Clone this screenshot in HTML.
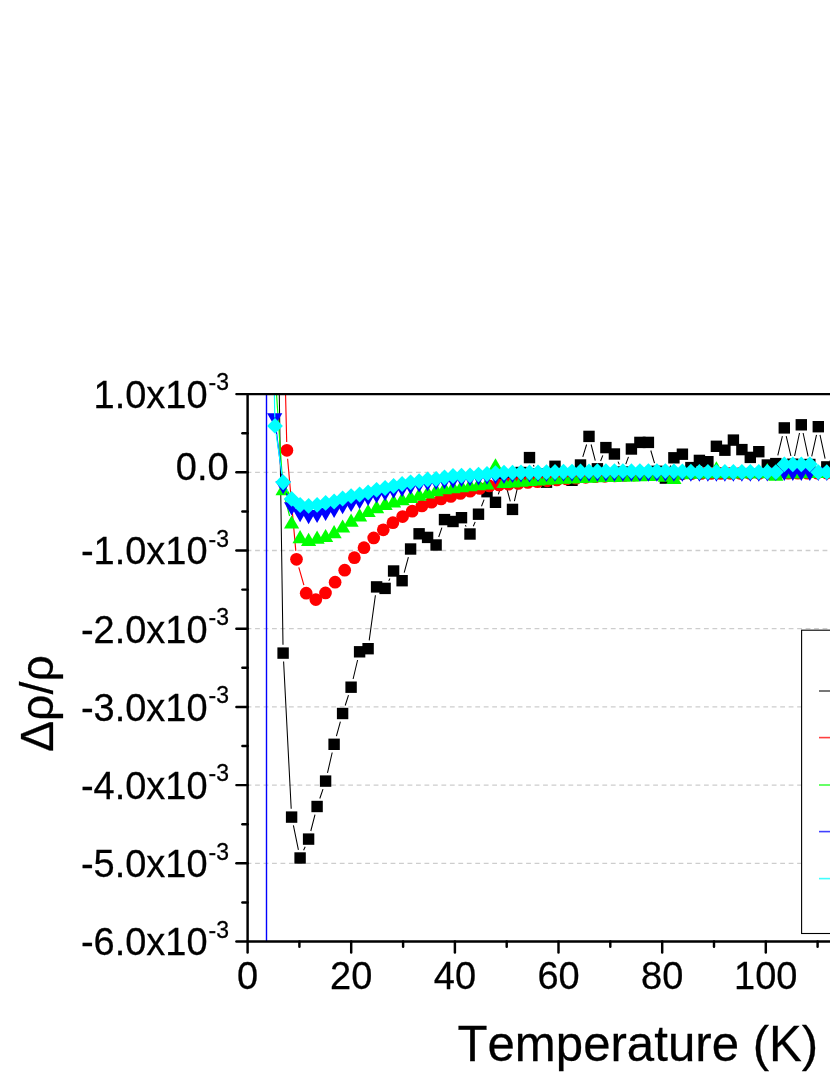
<!DOCTYPE html>
<html><head><meta charset="utf-8"><title>chart</title>
<style>html,body{margin:0;padding:0;background:#fff;}svg{display:block;will-change:transform;}text{font-family:"Liberation Sans",sans-serif;fill:#000;font-kerning:none;stroke:#000;stroke-width:0.25px;}</style></head><body>
<svg width="830" height="1075" viewBox="0 0 830 1075">
<rect width="830" height="1075" fill="#fff"/>
<defs><clipPath id="plot"><rect x="247.6" y="394.1" width="600" height="547.4"/></clipPath></defs>
<g stroke="#cdcdcd" stroke-width="1.3" stroke-dasharray="4.8 3.67">
<line x1="246.6" y1="472.3" x2="832" y2="472.3"/>
<line x1="246.6" y1="550.5" x2="832" y2="550.5"/>
<line x1="246.6" y1="628.7" x2="832" y2="628.7"/>
<line x1="246.6" y1="706.9" x2="832" y2="706.9"/>
<line x1="246.6" y1="785.1" x2="832" y2="785.1"/>
<line x1="246.6" y1="863.3" x2="832" y2="863.3"/>
</g>
<g clip-path="url(#plot)">
<line x1="266.5" y1="380" x2="266.5" y2="950" stroke="#0000ff" stroke-width="1.4"/>
<path d="M279.2 388L283 644.7M283.6 661.5L291.2 808.7M293.4 825.3L298.4 849.8M303.6 850.3L305.2 846.8M310.8 831L315 814.6M319.8 798.5L323 789.1M327.5 772.9L332.2 752.5M336.4 736.2L340.4 721.6M345.2 705.5L348.5 695.2M353.1 679L357.6 660M369.2 640.4L375.4 595.2M388.8 580.9L389.9 578.5M404.2 572.6L408.4 557.1M438.7 537L441.9 527.6M465.4 525.1L466.1 526.6M473.3 526.3L475.2 521.9M481.5 506.3L484.1 499.6M498.3 494.4L501.2 485.9M506.2 486.1L510.3 501.3M514.4 501.2L519.1 480.7M533.4 465.1L534.1 466.5M582.8 456.9L586.6 444.5M591.1 444.5L595.3 460.7M600.6 461L602.8 455.4M618 461.6L619.3 464.4M625.8 464.1L628.5 456.9M650.8 450.5L654.5 463.2M668.6 470.4L670.7 465.5M777.8 455.4L782.4 436.1M786.2 436.1L790.9 456M794.6 456L799.5 433M803.1 433L808.1 456.3M811.7 456.3L816.5 434.9M820 434.9L825.1 458.7" fill="none" stroke="#000" stroke-width="1.05"/>
<g fill="#000"><rect x="277.4" y="647.4" width="11.4" height="11.4"/><rect x="285.9" y="811.4" width="11.4" height="11.4"/><rect x="294.4" y="852.3" width="11.4" height="11.4"/><rect x="302.9" y="833.4" width="11.4" height="11.4"/><rect x="311.4" y="800.8" width="11.4" height="11.4"/><rect x="319.9" y="775.4" width="11.4" height="11.4"/><rect x="328.4" y="738.6" width="11.4" height="11.4"/><rect x="336.9" y="707.8" width="11.4" height="11.4"/><rect x="345.4" y="681.5" width="11.4" height="11.4"/><rect x="353.9" y="646.1" width="11.4" height="11.4"/><rect x="362.4" y="643" width="11.4" height="11.4"/><rect x="370.9" y="581.2" width="11.4" height="11.4"/><rect x="379.4" y="582.7" width="11.4" height="11.4"/><rect x="387.9" y="565.3" width="11.4" height="11.4"/><rect x="396.4" y="575" width="11.4" height="11.4"/><rect x="404.9" y="543.3" width="11.4" height="11.4"/><rect x="413.4" y="528.1" width="11.4" height="11.4"/><rect x="421.9" y="531.7" width="11.4" height="11.4"/><rect x="430.4" y="539.3" width="11.4" height="11.4"/><rect x="438.8" y="513.9" width="11.4" height="11.4"/><rect x="447.3" y="515.8" width="11.4" height="11.4"/><rect x="455.8" y="512" width="11.4" height="11.4"/><rect x="464.3" y="528.3" width="11.4" height="11.4"/><rect x="472.8" y="508.5" width="11.4" height="11.4"/><rect x="481.3" y="486" width="11.4" height="11.4"/><rect x="489.8" y="496.6" width="11.4" height="11.4"/><rect x="498.3" y="472.3" width="11.4" height="11.4"/><rect x="506.8" y="503.7" width="11.4" height="11.4"/><rect x="515.3" y="466.8" width="11.4" height="11.4"/><rect x="523.8" y="451.9" width="11.4" height="11.4"/><rect x="532.3" y="468.3" width="11.4" height="11.4"/><rect x="540.8" y="476.5" width="11.4" height="11.4"/><rect x="549.3" y="460.6" width="11.4" height="11.4"/><rect x="557.8" y="468.3" width="11.4" height="11.4"/><rect x="566.3" y="474.6" width="11.4" height="11.4"/><rect x="574.8" y="459.3" width="11.4" height="11.4"/><rect x="583.3" y="430.7" width="11.4" height="11.4"/><rect x="591.7" y="463.1" width="11.4" height="11.4"/><rect x="600.2" y="441.9" width="11.4" height="11.4"/><rect x="608.7" y="448.3" width="11.4" height="11.4"/><rect x="617.2" y="466.3" width="11.4" height="11.4"/><rect x="625.7" y="443.3" width="11.4" height="11.4"/><rect x="634.2" y="436.7" width="11.4" height="11.4"/><rect x="642.7" y="436.7" width="11.4" height="11.4"/><rect x="651.2" y="465.6" width="11.4" height="11.4"/><rect x="659.7" y="472.4" width="11.4" height="11.4"/><rect x="668.2" y="452.1" width="11.4" height="11.4"/><rect x="676.7" y="448.5" width="11.4" height="11.4"/><rect x="685.2" y="461.9" width="11.4" height="11.4"/><rect x="693.7" y="454.7" width="11.4" height="11.4"/><rect x="702.2" y="456" width="11.4" height="11.4"/><rect x="710.7" y="440.6" width="11.4" height="11.4"/><rect x="719.2" y="444.5" width="11.4" height="11.4"/><rect x="727.7" y="434.4" width="11.4" height="11.4"/><rect x="736.2" y="443.9" width="11.4" height="11.4"/><rect x="744.6" y="451.7" width="11.4" height="11.4"/><rect x="753.1" y="446" width="11.4" height="11.4"/><rect x="761.6" y="459.3" width="11.4" height="11.4"/><rect x="770.1" y="457.9" width="11.4" height="11.4"/><rect x="778.6" y="422.2" width="11.4" height="11.4"/><rect x="787.1" y="458.5" width="11.4" height="11.4"/><rect x="795.6" y="419.1" width="11.4" height="11.4"/><rect x="804.1" y="458.8" width="11.4" height="11.4"/><rect x="812.6" y="421" width="11.4" height="11.4"/><rect x="821.1" y="461.2" width="11.4" height="11.4"/><rect x="829.6" y="460.3" width="11.4" height="11.4"/></g>
<path d="M285.4 388L286.7 441.9M287.6 458.7L295.8 550.9M298.8 567.4L303.9 585.1" fill="none" stroke="#ff0000" stroke-width="1.15"/>
<g fill="#ff0000"><circle cx="286.9" cy="450.3" r="6.35"/><circle cx="296.5" cy="559.3" r="6.35"/><circle cx="306.2" cy="593.2" r="6.35"/><circle cx="315.8" cy="599.6" r="6.35"/><circle cx="325.5" cy="592.9" r="6.35"/><circle cx="335.1" cy="582.2" r="6.35"/><circle cx="344.7" cy="570.2" r="6.35"/><circle cx="354.4" cy="557.7" r="6.35"/><circle cx="364" cy="547.7" r="6.35"/><circle cx="373.7" cy="537.9" r="6.35"/><circle cx="383.3" cy="529.8" r="6.35"/><circle cx="392.9" cy="522.7" r="6.35"/><circle cx="402.6" cy="516.6" r="6.35"/><circle cx="412.2" cy="511.2" r="6.35"/><circle cx="421.9" cy="506" r="6.35"/><circle cx="431.5" cy="502.2" r="6.35"/><circle cx="441.1" cy="498.9" r="6.35"/><circle cx="450.8" cy="496.4" r="6.35"/><circle cx="460.4" cy="493.5" r="6.35"/><circle cx="470.1" cy="491.2" r="6.35"/><circle cx="479.7" cy="488.5" r="6.35"/><circle cx="489.3" cy="485.9" r="6.35"/><circle cx="499" cy="485" r="6.35"/><circle cx="508.6" cy="484.2" r="6.35"/><circle cx="518.3" cy="483.4" r="6.35"/><circle cx="527.9" cy="482.5" r="6.35"/><circle cx="537.5" cy="481.7" r="6.35"/><circle cx="547.2" cy="480.8" r="6.35"/><circle cx="556.8" cy="479.9" r="6.35"/><circle cx="566.5" cy="479" r="6.35"/><circle cx="576.1" cy="478.2" r="6.35"/><circle cx="585.7" cy="477.3" r="6.35"/><circle cx="595.4" cy="476.7" r="6.35"/><circle cx="605" cy="476.3" r="6.35"/><circle cx="614.7" cy="475.9" r="6.35"/><circle cx="624.3" cy="475.5" r="6.35"/><circle cx="633.9" cy="475.1" r="6.35"/><circle cx="643.6" cy="474.7" r="6.35"/><circle cx="653.2" cy="474.3" r="6.35"/><circle cx="662.9" cy="474.1" r="6.35"/><circle cx="672.5" cy="473.9" r="6.35"/><circle cx="682.1" cy="473.8" r="6.35"/><circle cx="691.8" cy="473.6" r="6.35"/><circle cx="701.4" cy="473.4" r="6.35"/><circle cx="711.1" cy="473.4" r="6.35"/><circle cx="720.7" cy="473.4" r="6.35"/><circle cx="730.3" cy="473.3" r="6.35"/><circle cx="740" cy="473.3" r="6.35"/><circle cx="749.6" cy="473.3" r="6.35"/><circle cx="759.3" cy="473.3" r="6.35"/><circle cx="768.9" cy="473.3" r="6.35"/><circle cx="778.5" cy="473.2" r="6.35"/><circle cx="788.2" cy="473.2" r="6.35"/><circle cx="797.8" cy="473.2" r="6.35"/><circle cx="807.5" cy="473.2" r="6.35"/><circle cx="817.1" cy="473.1" r="6.35"/><circle cx="826.7" cy="473.1" r="6.35"/><circle cx="836.4" cy="473.1" r="6.35"/></g>
<path d="M276.1 388L282.6 482.5M285.2 499L289.6 516M490.6 477.4L491.9 474.6M499.3 474.5L500.2 476.1" fill="none" stroke="#00ff00" stroke-width="1.2"/>
<g fill="#00ff00"><path d="M283.1 482.1L290.8 495.3L275.5 495.3Z"/><path d="M291.6 515.4L299.2 528.6L284 528.6Z"/><path d="M300.1 530L307.7 543.2L292.5 543.2Z"/><path d="M308.6 532.8L316.2 546L301 546Z"/><path d="M317.1 530.5L324.7 543.7L309.5 543.7Z"/><path d="M325.6 528.9L333.2 542.1L318 542.1Z"/><path d="M334.1 525L341.7 538.2L326.5 538.2Z"/><path d="M342.6 519.4L350.2 532.6L335 532.6Z"/><path d="M351.1 513.6L358.7 526.8L343.5 526.8Z"/><path d="M359.6 508.3L367.2 521.5L352 521.5Z"/><path d="M368.1 503.9L375.7 517.1L360.5 517.1Z"/><path d="M376.6 500L384.2 513.2L369 513.2Z"/><path d="M385.1 496.7L392.7 509.9L377.5 509.9Z"/><path d="M393.6 494.2L401.2 507.4L386 507.4Z"/><path d="M402.1 492L409.7 505.2L394.5 505.2Z"/><path d="M410.6 489.8L418.2 503L403 503Z"/><path d="M419.1 487.6L426.7 500.8L411.5 500.8Z"/><path d="M427.6 485.4L435.2 498.6L420 498.6Z"/><path d="M436.1 483.1L443.7 496.3L428.5 496.3Z"/><path d="M444.5 481L452.1 494.2L436.9 494.2Z"/><path d="M453 480L460.6 493.2L445.4 493.2Z"/><path d="M461.5 479L469.1 492.2L453.9 492.2Z"/><path d="M470 478L477.6 491.2L462.4 491.2Z"/><path d="M478.5 477L486.1 490.2L470.9 490.2Z"/><path d="M487 476.2L494.6 489.4L479.4 489.4Z"/><path d="M495.5 458.2L503.1 471.4L487.9 471.4Z"/><path d="M504 474.8L511.6 488L496.4 488Z"/><path d="M512.5 474.2L520.1 487.4L504.9 487.4Z"/><path d="M521 473.5L528.6 486.7L513.4 486.7Z"/><path d="M529.5 472.9L537.1 486.1L521.9 486.1Z"/><path d="M538 472.2L545.6 485.4L530.4 485.4Z"/><path d="M546.5 471.6L554.1 484.8L538.9 484.8Z"/><path d="M555 471L562.6 484.2L547.4 484.2Z"/><path d="M563.5 470.6L571.1 483.8L555.9 483.8Z"/><path d="M572 470.2L579.6 483.4L564.4 483.4Z"/><path d="M580.5 469.8L588.1 483L572.9 483Z"/><path d="M589 469.5L596.6 482.7L581.4 482.7Z"/><path d="M597.4 469.1L605 482.3L589.8 482.3Z"/><path d="M605.9 468.9L613.5 482.1L598.3 482.1Z"/><path d="M614.4 468.7L622 481.9L606.8 481.9Z"/><path d="M622.9 468.4L630.5 481.6L615.3 481.6Z"/><path d="M631.4 468.2L639 481.4L623.8 481.4Z"/><path d="M639.9 468L647.5 481.2L632.3 481.2Z"/><path d="M648.4 467.8L656 481L640.8 481Z"/><path d="M656.9 467.4L664.5 480.6L649.3 480.6Z"/><path d="M665.4 468.6L673 481.8L657.8 481.8Z"/><path d="M673.9 470.7L681.5 483.9L666.3 483.9Z"/><path d="M682.4 466.1L690 479.3L674.8 479.3Z"/><path d="M690.9 465.6L698.5 478.8L683.3 478.8Z"/><path d="M699.4 465.1L707 478.3L691.8 478.3Z"/><path d="M707.9 465.1L715.5 478.3L700.3 478.3Z"/><path d="M716.4 461.2L724 474.4L708.8 474.4Z"/><path d="M724.9 465.1L732.5 478.3L717.3 478.3Z"/><path d="M733.4 465.1L741 478.3L725.8 478.3Z"/><path d="M741.9 465L749.5 478.2L734.3 478.2Z"/><path d="M750.3 465L757.9 478.2L742.7 478.2Z"/><path d="M758.8 465L766.4 478.2L751.2 478.2Z"/><path d="M767.3 463L774.9 476.2L759.7 476.2Z"/><path d="M775.8 467.5L783.4 480.7L768.2 480.7Z"/><path d="M784.3 465L791.9 478.2L776.7 478.2Z"/><path d="M792.8 465L800.4 478.2L785.2 478.2Z"/><path d="M801.3 465L808.9 478.2L793.7 478.2Z"/><path d="M809.8 464.9L817.4 478.1L802.2 478.1Z"/><path d="M818.3 464.9L825.9 478.1L810.7 478.1Z"/><path d="M826.8 464.9L834.4 478.1L819.2 478.1Z"/><path d="M835.3 464.9L842.9 478.1L827.7 478.1Z"/></g>
<path d="M275.7 426L282.1 477.2M286.3 493.3L288.5 498.9" fill="none" stroke="#0000ff" stroke-width="1.2"/>
<g fill="#0000ff"><path d="M274.7 426.5L282.3 413.3L267.1 413.3Z"/><path d="M283.1 494.3L290.8 481.1L275.5 481.1Z"/><path d="M291.6 515.5L299.2 502.3L284 502.3Z"/><path d="M300.1 522.2L307.7 509L292.5 509Z"/><path d="M308.6 524.3L316.2 511.1L301 511.1Z"/><path d="M317.1 523.1L324.7 509.9L309.5 509.9Z"/><path d="M325.6 521.1L333.2 507.9L318 507.9Z"/><path d="M334.1 518L341.7 504.8L326.5 504.8Z"/><path d="M342.6 514.3L350.2 501.1L335 501.1Z"/><path d="M351.1 512.1L358.7 498.9L343.5 498.9Z"/><path d="M359.6 509.3L367.2 496.1L352 496.1Z"/><path d="M368.1 506L375.7 492.8L360.5 492.8Z"/><path d="M376.6 503.4L384.2 490.2L369 490.2Z"/><path d="M385.1 501.2L392.7 488L377.5 488Z"/><path d="M393.6 498.8L401.2 485.6L386 485.6Z"/><path d="M402.1 497L409.7 483.8L394.5 483.8Z"/><path d="M410.6 494.7L418.2 481.5L403 481.5Z"/><path d="M419.1 492.6L426.7 479.4L411.5 479.4Z"/><path d="M427.6 491.2L435.2 478L420 478Z"/><path d="M436.1 490L443.7 476.8L428.5 476.8Z"/><path d="M444.5 489.2L452.1 476L436.9 476Z"/><path d="M453 488.4L460.6 475.2L445.4 475.2Z"/><path d="M461.5 487.1L469.1 473.9L453.9 473.9Z"/><path d="M470 486.2L477.6 473L462.4 473Z"/><path d="M478.5 485.5L486.1 472.3L470.9 472.3Z"/><path d="M487 484.8L494.6 471.6L479.4 471.6Z"/><path d="M495.5 484.4L503.1 471.2L487.9 471.2Z"/><path d="M504 483.9L511.6 470.7L496.4 470.7Z"/><path d="M512.5 483.1L520.1 469.9L504.9 469.9Z"/><path d="M521 482.6L528.6 469.4L513.4 469.4Z"/><path d="M529.5 482.4L537.1 469.2L521.9 469.2Z"/><path d="M538 482.1L545.6 468.9L530.4 468.9Z"/><path d="M546.5 482L554.1 468.8L538.9 468.8Z"/><path d="M555 481.8L562.6 468.6L547.4 468.6Z"/><path d="M563.5 481.8L571.1 468.6L555.9 468.6Z"/><path d="M572 481.8L579.6 468.6L564.4 468.6Z"/><path d="M580.5 481.8L588.1 468.6L572.9 468.6Z"/><path d="M589 481.8L596.6 468.6L581.4 468.6Z"/><path d="M597.4 481.8L605 468.6L589.8 468.6Z"/><path d="M605.9 481.8L613.5 468.6L598.3 468.6Z"/><path d="M614.4 481.8L622 468.6L606.8 468.6Z"/><path d="M622.9 481.7L630.5 468.5L615.3 468.5Z"/><path d="M631.4 481.7L639 468.5L623.8 468.5Z"/><path d="M639.9 481.7L647.5 468.5L632.3 468.5Z"/><path d="M648.4 481.7L656 468.5L640.8 468.5Z"/><path d="M656.9 481.7L664.5 468.5L649.3 468.5Z"/><path d="M665.4 481.7L673 468.5L657.8 468.5Z"/><path d="M673.9 481.7L681.5 468.5L666.3 468.5Z"/><path d="M682.4 481.7L690 468.5L674.8 468.5Z"/><path d="M690.9 481.7L698.5 468.5L683.3 468.5Z"/><path d="M699.4 481.8L707 468.6L691.8 468.6Z"/><path d="M707.9 481.8L715.5 468.6L700.3 468.6Z"/><path d="M716.4 481.8L724 468.6L708.8 468.6Z"/><path d="M724.9 481.8L732.5 468.6L717.3 468.6Z"/><path d="M733.4 481.8L741 468.6L725.8 468.6Z"/><path d="M741.9 481.8L749.5 468.6L734.3 468.6Z"/><path d="M750.3 481.8L757.9 468.6L742.7 468.6Z"/><path d="M758.8 481.8L766.4 468.6L751.2 468.6Z"/><path d="M767.3 481.4L774.9 468.2L759.7 468.2Z"/><path d="M775.8 480.9L783.4 467.7L768.2 467.7Z"/><path d="M784.3 480.9L791.9 467.7L776.7 467.7Z"/><path d="M792.8 480.9L800.4 467.7L785.2 467.7Z"/><path d="M801.3 480.9L808.9 467.7L793.7 467.7Z"/><path d="M809.8 480.9L817.4 467.7L802.2 467.7Z"/><path d="M818.3 480.9L825.9 467.7L810.7 467.7Z"/><path d="M826.8 480.9L834.4 467.7L819.2 467.7Z"/><path d="M835.3 480.9L842.9 467.7L827.7 467.7Z"/></g>
<path d="M274.3 388L274.8 417.5M276.2 434.2L281.9 474M287 489.8L287.8 491.4" fill="none" stroke="#00ffff" stroke-width="1.2"/>
<g fill="#00ffff"><path d="M275 417.9L282.9 425.9L275 433.8L267.1 425.9Z"/><path d="M283.1 474.3L291.1 482.3L283.1 490.2L275.2 482.3Z"/><path d="M291.6 490.9L299.6 498.9L291.6 506.8L283.7 498.9Z"/><path d="M300.1 497.1L308.1 505.1L300.1 513L292.2 505.1Z"/><path d="M308.6 497.9L316.6 505.9L308.6 513.8L300.7 505.9Z"/><path d="M317.1 496.9L325.1 504.9L317.1 512.8L309.2 504.9Z"/><path d="M325.6 494.9L333.6 502.9L325.6 510.8L317.7 502.9Z"/><path d="M334.1 493.5L342.1 501.4L334.1 509.4L326.2 501.4Z"/><path d="M342.6 490.6L350.6 498.5L342.6 506.5L334.7 498.5Z"/><path d="M351.1 488.2L359.1 496.1L351.1 504.1L343.2 496.1Z"/><path d="M359.6 486.6L367.6 494.6L359.6 502.5L351.7 494.6Z"/><path d="M368.1 484.5L376 492.4L368.1 500.4L360.1 492.4Z"/><path d="M376.6 481.9L384.5 489.8L376.6 497.8L368.6 489.8Z"/><path d="M385.1 480.1L393 488.1L385.1 496L377.1 488.1Z"/><path d="M393.6 478.1L401.5 486L393.6 494L385.6 486Z"/><path d="M402.1 476.1L410 484.1L402.1 492L394.1 484.1Z"/><path d="M410.6 474.4L418.5 482.3L410.6 490.3L402.6 482.3Z"/><path d="M419.1 473.2L427 481.2L419.1 489.1L411.1 481.2Z"/><path d="M427.6 471.5L435.5 479.4L427.6 487.4L419.6 479.4Z"/><path d="M436.1 471.1L444 479L436.1 487L428.1 479Z"/><path d="M444.5 469.6L452.5 477.5L444.5 485.5L436.6 477.5Z"/><path d="M453 468.1L461 476.1L453 484L445.1 476.1Z"/><path d="M461.5 467.8L469.5 475.7L461.5 483.7L453.6 475.7Z"/><path d="M470 467.4L478 475.4L470 483.3L462.1 475.4Z"/><path d="M478.5 466.7L486.5 474.6L478.5 482.6L470.6 474.6Z"/><path d="M487 466L495 473.9L487 481.9L479.1 473.9Z"/><path d="M495.5 465.3L503.5 473.2L495.5 481.2L487.6 473.2Z"/><path d="M504 464.8L512 472.7L504 480.7L496.1 472.7Z"/><path d="M512.5 464.7L520.5 472.6L512.5 480.6L504.6 472.6Z"/><path d="M521 464.6L528.9 472.6L521 480.5L513 472.6Z"/><path d="M529.5 464.5L537.4 472.5L529.5 480.4L521.5 472.5Z"/><path d="M538 464.5L545.9 472.4L538 480.4L530 472.4Z"/><path d="M546.5 464.2L554.4 472.2L546.5 480.1L538.5 472.2Z"/><path d="M555 464L562.9 471.9L555 479.9L547 471.9Z"/><path d="M563.5 463.8L571.4 471.8L563.5 479.7L555.5 471.8Z"/><path d="M572 463.7L579.9 471.6L572 479.6L564 471.6Z"/><path d="M580.5 463.6L588.4 471.5L580.5 479.5L572.5 471.5Z"/><path d="M589 463.4L596.9 471.4L589 479.3L581 471.4Z"/><path d="M597.4 463.3L605.4 471.2L597.4 479.2L589.5 471.2Z"/><path d="M605.9 463.2L613.9 471.2L605.9 479.1L598 471.2Z"/><path d="M614.4 463.2L622.4 471.2L614.4 479.1L606.5 471.2Z"/><path d="M622.9 463.2L630.9 471.2L622.9 479.1L615 471.2Z"/><path d="M631.4 463.2L639.4 471.2L631.4 479.1L623.5 471.2Z"/><path d="M639.9 463.2L647.9 471.1L639.9 479.1L632 471.1Z"/><path d="M648.4 463.2L656.4 471.1L648.4 479.1L640.5 471.1Z"/><path d="M656.9 463.2L664.9 471.1L656.9 479.1L649 471.1Z"/><path d="M665.4 463.2L673.4 471.1L665.4 479.1L657.5 471.1Z"/><path d="M673.9 463.4L681.8 471.3L673.9 479.3L665.9 471.3Z"/><path d="M682.4 463.6L690.3 471.5L682.4 479.5L674.4 471.5Z"/><path d="M690.9 463.8L698.8 471.8L690.9 479.7L682.9 471.8Z"/><path d="M699.4 464L707.3 472L699.4 479.9L691.4 472Z"/><path d="M707.9 464.1L715.8 472L707.9 480L699.9 472Z"/><path d="M716.4 464.1L724.3 472L716.4 480L708.4 472Z"/><path d="M724.9 464.1L732.8 472L724.9 480L716.9 472Z"/><path d="M733.4 464.1L741.3 472L733.4 480L725.4 472Z"/><path d="M741.9 464.1L749.8 472.1L741.9 480L733.9 472.1Z"/><path d="M750.3 464.1L758.3 472.1L750.3 480L742.4 472.1Z"/><path d="M758.8 464.1L766.8 472.1L758.8 480L750.9 472.1Z"/><path d="M767.3 464.1L775.3 472.1L767.3 480L759.4 472.1Z"/><path d="M775.8 464.2L783.8 472.1L775.8 480.1L767.9 472.1Z"/><path d="M784.3 456.4L792.3 464.3L784.3 472.2L776.4 464.3Z"/><path d="M792.8 456.4L800.8 464.3L792.8 472.2L784.9 464.3Z"/><path d="M801.3 456.4L809.3 464.3L801.3 472.2L793.4 464.3Z"/><path d="M809.8 456.4L817.8 464.3L809.8 472.2L801.9 464.3Z"/><path d="M818.3 464.2L826.3 472.2L818.3 480.1L810.4 472.2Z"/><path d="M826.8 464.2L834.7 472.2L826.8 480.1L818.8 472.2Z"/><path d="M835.3 464.2L843.2 472.2L835.3 480.1L827.3 472.2Z"/></g>
</g>
<rect x="801.6" y="630.2" width="40" height="303.3" fill="#fff" stroke="#000" stroke-width="1.1"/>
<line x1="819" y1="691" x2="830" y2="691" stroke="#555555" stroke-width="1.6"/>
<line x1="819" y1="737.6" x2="830" y2="737.6" stroke="#ff4040" stroke-width="1.6"/>
<line x1="819" y1="785" x2="830" y2="785" stroke="#40ff40" stroke-width="1.6"/>
<line x1="819" y1="831.6" x2="830" y2="831.6" stroke="#4040ff" stroke-width="1.6"/>
<line x1="819" y1="878.6" x2="830" y2="878.6" stroke="#40ffff" stroke-width="1.6"/>
<g stroke="#000" stroke-width="2.45" fill="none" stroke-linecap="round">
<line x1="236.4" y1="394.1" x2="840" y2="394.1"/>
<line x1="236.4" y1="941.5" x2="840" y2="941.5"/>
<line x1="247.6" y1="394.1" x2="247.6" y2="952.6"/>
<line x1="236.4" y1="472.3" x2="247.6" y2="472.3"/>
<line x1="236.4" y1="550.5" x2="247.6" y2="550.5"/>
<line x1="236.4" y1="628.7" x2="247.6" y2="628.7"/>
<line x1="236.4" y1="706.9" x2="247.6" y2="706.9"/>
<line x1="236.4" y1="785.1" x2="247.6" y2="785.1"/>
<line x1="236.4" y1="863.3" x2="247.6" y2="863.3"/>
<line x1="242.4" y1="433.2" x2="247.6" y2="433.2"/>
<line x1="242.4" y1="511.4" x2="247.6" y2="511.4"/>
<line x1="242.4" y1="589.6" x2="247.6" y2="589.6"/>
<line x1="242.4" y1="667.8" x2="247.6" y2="667.8"/>
<line x1="242.4" y1="746" x2="247.6" y2="746"/>
<line x1="242.4" y1="824.2" x2="247.6" y2="824.2"/>
<line x1="242.4" y1="902.4" x2="247.6" y2="902.4"/>
<line x1="351.2" y1="941.5" x2="351.2" y2="952.6"/>
<line x1="454.9" y1="941.5" x2="454.9" y2="952.6"/>
<line x1="558.5" y1="941.5" x2="558.5" y2="952.6"/>
<line x1="662.2" y1="941.5" x2="662.2" y2="952.6"/>
<line x1="765.8" y1="941.5" x2="765.8" y2="952.6"/>
<line x1="299.4" y1="941.5" x2="299.4" y2="946.7"/>
<line x1="403.1" y1="941.5" x2="403.1" y2="946.7"/>
<line x1="506.7" y1="941.5" x2="506.7" y2="946.7"/>
<line x1="610.3" y1="941.5" x2="610.3" y2="946.7"/>
<line x1="714" y1="941.5" x2="714" y2="946.7"/>
<line x1="817.6" y1="941.5" x2="817.6" y2="946.7"/>
</g>
<text transform="translate(207.6 407.9) scale(1.0 1.025)" font-size="38" text-anchor="end">1.0x10</text>
<text transform="translate(208.5 390.4) scale(1.0 1.07)" font-size="23">-3</text>
<text transform="translate(228.6 480.1) scale(1.0 1.025)" font-size="38" text-anchor="end">0.0</text>
<text transform="translate(207.6 564.3) scale(1.0 1.025)" font-size="38" text-anchor="end">-1.0x10</text>
<text transform="translate(208.5 546.8) scale(1.0 1.07)" font-size="23">-3</text>
<text transform="translate(207.6 642.5) scale(1.0 1.025)" font-size="38" text-anchor="end">-2.0x10</text>
<text transform="translate(208.5 625) scale(1.0 1.07)" font-size="23">-3</text>
<text transform="translate(207.6 720.7) scale(1.0 1.025)" font-size="38" text-anchor="end">-3.0x10</text>
<text transform="translate(208.5 703.2) scale(1.0 1.07)" font-size="23">-3</text>
<text transform="translate(207.6 798.9) scale(1.0 1.025)" font-size="38" text-anchor="end">-4.0x10</text>
<text transform="translate(208.5 781.4) scale(1.0 1.07)" font-size="23">-3</text>
<text transform="translate(207.6 877.1) scale(1.0 1.025)" font-size="38" text-anchor="end">-5.0x10</text>
<text transform="translate(208.5 859.6) scale(1.0 1.07)" font-size="23">-3</text>
<text transform="translate(207.6 955.3) scale(1.0 1.025)" font-size="38" text-anchor="end">-6.0x10</text>
<text transform="translate(208.5 937.8) scale(1.0 1.07)" font-size="23">-3</text>
<text transform="translate(247.6 989.3) scale(1.0 1.025)" font-size="38" text-anchor="middle">0</text>
<text transform="translate(351.2 989.3) scale(1.0 1.025)" font-size="38" text-anchor="middle">20</text>
<text transform="translate(454.9 989.3) scale(1.0 1.025)" font-size="38" text-anchor="middle">40</text>
<text transform="translate(558.5 989.3) scale(1.0 1.025)" font-size="38" text-anchor="middle">60</text>
<text transform="translate(662.2 989.3) scale(1.0 1.025)" font-size="38" text-anchor="middle">80</text>
<text transform="translate(765.8 989.3) scale(1.0 1.025)" font-size="38" text-anchor="middle">100</text>
<text transform="translate(457.4 1061.4) scale(1.0 1.005)" font-size="49.2">Temperature (K)</text>
<text transform="translate(52.9 752) rotate(-90)" font-size="46.5">Δρ/ρ</text>
</svg></body></html>
